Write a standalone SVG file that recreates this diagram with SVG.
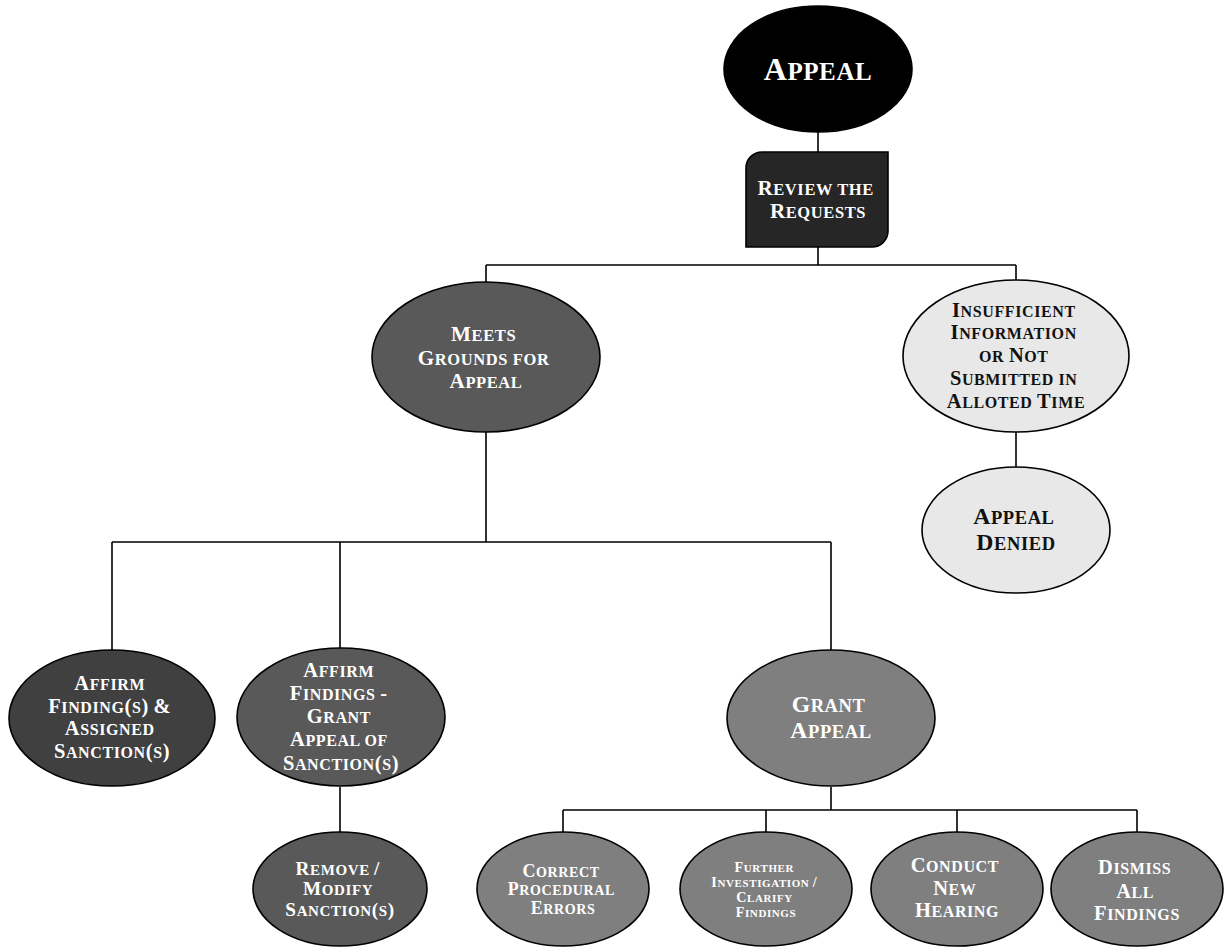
<svg xmlns="http://www.w3.org/2000/svg" width="1225" height="947" viewBox="0 0 1225 947">
  <style>
    text { font-family: "Liberation Serif", "Times New Roman", serif; font-weight: bold; text-anchor: middle; letter-spacing: 0.6px; }
    .w { fill: #ffffff; }
    .k { fill: #111111; }
    .C { font-size: 1.28em; }
    .node { stroke: #000000; stroke-width: 1.6; }
    .links path { fill: none; stroke: #000000; stroke-width: 1.6; }
  </style>
  <rect width="1225" height="947" fill="#ffffff"/>

  <!-- connectors -->
  <g class="links">
    <path d="M818,132 V152"/>
    <path d="M818,247 V265 M486,265 H1016 M486,265 V282 M1016,265 V280"/>
    <path d="M486,432 V542 M112,542 H831 M112,542 V650 M340,542 V648 M831,542 V650"/>
    <path d="M1016,432 V467"/>
    <path d="M340,787 V832"/>
    <path d="M831,787 V810 M563,810 H1137 M563,810 V833 M766,810 V833 M957,810 V833 M1137,810 V833"/>
  </g>

  <!-- top -->
  <g id="appeal">
    <ellipse class="node" cx="818" cy="69" rx="94" ry="63" fill="#000000"/>
    <text class="w" x="818" y="80" font-size="25"><tspan class="C">A</tspan>PPEAL</text>
  </g>
  <g id="review">
    <path class="node" d="M762,152 H888 V231 A16,16 0 0 1 872,247 H746 V168 A16,16 0 0 1 762,152 Z" fill="#262626"/>
    <text class="w" font-size="16.5">
      <tspan x="818" y="195"><tspan class="C">R</tspan>EVIEW THE</tspan>
      <tspan x="818" y="218"><tspan class="C">R</tspan>EQUESTS</tspan>
    </text>
  </g>

  <!-- second level -->
  <g id="meets-grounds">
    <ellipse class="node" cx="486" cy="357" rx="114" ry="75" fill="#595959"/>
    <text class="w" font-size="16.5">
      <tspan x="486" y="341"><tspan class="C">M</tspan>EETS</tspan>
      <tspan x="486" y="365"><tspan class="C">G</tspan>ROUNDS FOR</tspan>
      <tspan x="486" y="388"><tspan class="C">A</tspan>PPEAL</tspan>
    </text>
  </g>
  <g id="insufficient">
    <ellipse class="node" cx="1016" cy="356" rx="113" ry="76" fill="#e8e8e8"/>
    <text class="k" font-size="16">
      <tspan x="1016" y="317"><tspan class="C">I</tspan>NSUFFICIENT</tspan>
      <tspan x="1016" y="339"><tspan class="C">I</tspan>NFORMATION</tspan>
      <tspan x="1016" y="362">OR <tspan class="C">N</tspan>OT</tspan>
      <tspan x="1016" y="385"><tspan class="C">S</tspan>UBMITTED IN</tspan>
      <tspan x="1016" y="408"><tspan class="C">A</tspan>LLOTED <tspan class="C">T</tspan>IME</tspan>
    </text>
  </g>
  <g id="appeal-denied">
    <ellipse class="node" cx="1016" cy="530" rx="94" ry="63" fill="#e8e8e8"/>
    <text class="k" font-size="18.5">
      <tspan x="1016" y="524"><tspan class="C">A</tspan>PPEAL</tspan>
      <tspan x="1016" y="550"><tspan class="C">D</tspan>ENIED</tspan>
    </text>
  </g>

  <!-- third level -->
  <g id="affirm-sanctions">
    <ellipse class="node" cx="112" cy="718" rx="103" ry="68" fill="#404040"/>
    <text class="w" font-size="16">
      <tspan x="112" y="690"><tspan class="C">A</tspan>FFIRM</tspan>
      <tspan x="112" y="713"><tspan class="C">F</tspan>INDING<tspan class="C">(</tspan>S<tspan class="C">)</tspan> <tspan class="C">&amp;</tspan></tspan>
      <tspan x="112" y="735"><tspan class="C">A</tspan>SSIGNED</tspan>
      <tspan x="112" y="758"><tspan class="C">S</tspan>ANCTION<tspan class="C">(</tspan>S<tspan class="C">)</tspan></tspan>
    </text>
  </g>
  <g id="affirm-grant-sanction">
    <ellipse class="node" cx="341" cy="717" rx="104" ry="69" fill="#595959"/>
    <text class="w" font-size="16">
      <tspan x="341" y="677"><tspan class="C">A</tspan>FFIRM</tspan>
      <tspan x="341" y="700"><tspan class="C">F</tspan>INDINGS <tspan class="C">-</tspan></tspan>
      <tspan x="341" y="723"><tspan class="C">G</tspan>RANT</tspan>
      <tspan x="341" y="746"><tspan class="C">A</tspan>PPEAL OF</tspan>
      <tspan x="341" y="770"><tspan class="C">S</tspan>ANCTION<tspan class="C">(</tspan>S<tspan class="C">)</tspan></tspan>
    </text>
  </g>
  <g id="grant-appeal">
    <ellipse class="node" cx="831" cy="718" rx="104" ry="68" fill="#7f7f7f"/>
    <text class="w" font-size="18.5">
      <tspan x="831" y="712"><tspan class="C">G</tspan>RANT</tspan>
      <tspan x="831" y="738"><tspan class="C">A</tspan>PPEAL</tspan>
    </text>
  </g>

  <!-- bottom row -->
  <g id="remove-modify">
    <ellipse class="node" cx="340" cy="889" rx="87" ry="57" fill="#595959"/>
    <text class="w" font-size="15">
      <tspan x="340" y="875"><tspan class="C">R</tspan>EMOVE <tspan class="C">/</tspan></tspan>
      <tspan x="340" y="895"><tspan class="C">M</tspan>ODIFY</tspan>
      <tspan x="340" y="916"><tspan class="C">S</tspan>ANCTION<tspan class="C">(</tspan>S<tspan class="C">)</tspan></tspan>
    </text>
  </g>
  <g id="correct-errors">
    <ellipse class="node" cx="563" cy="889" rx="86" ry="57" fill="#7f7f7f"/>
    <text class="w" font-size="14">
      <tspan x="563" y="877"><tspan class="C">C</tspan>ORRECT</tspan>
      <tspan x="563" y="895"><tspan class="C">P</tspan>ROCEDURAL</tspan>
      <tspan x="563" y="914"><tspan class="C">E</tspan>RRORS</tspan>
    </text>
  </g>
  <g id="further-investigation">
    <ellipse class="node" cx="766" cy="889" rx="86" ry="57" fill="#7f7f7f"/>
    <text class="w" font-size="11">
      <tspan x="766" y="872"><tspan class="C">F</tspan>URTHER</tspan>
      <tspan x="766" y="887"><tspan class="C">I</tspan>NVESTIGATION <tspan class="C">/</tspan></tspan>
      <tspan x="766" y="902"><tspan class="C">C</tspan>LARIFY</tspan>
      <tspan x="766" y="917"><tspan class="C">F</tspan>INDINGS</tspan>
    </text>
  </g>
  <g id="new-hearing">
    <ellipse class="node" cx="957" cy="889" rx="86" ry="57" fill="#7f7f7f"/>
    <text class="w" font-size="16">
      <tspan x="957" y="872"><tspan class="C">C</tspan>ONDUCT</tspan>
      <tspan x="957" y="895"><tspan class="C">N</tspan>EW</tspan>
      <tspan x="957" y="917"><tspan class="C">H</tspan>EARING</tspan>
    </text>
  </g>
  <g id="dismiss-findings">
    <ellipse class="node" cx="1137" cy="889" rx="86" ry="57" fill="#7f7f7f"/>
    <text class="w" font-size="16">
      <tspan x="1137" y="874"><tspan class="C">D</tspan>ISMISS</tspan>
      <tspan x="1137" y="898"><tspan class="C">A</tspan>LL</tspan>
      <tspan x="1137" y="920"><tspan class="C">F</tspan>INDINGS</tspan>
    </text>
  </g>
</svg>
